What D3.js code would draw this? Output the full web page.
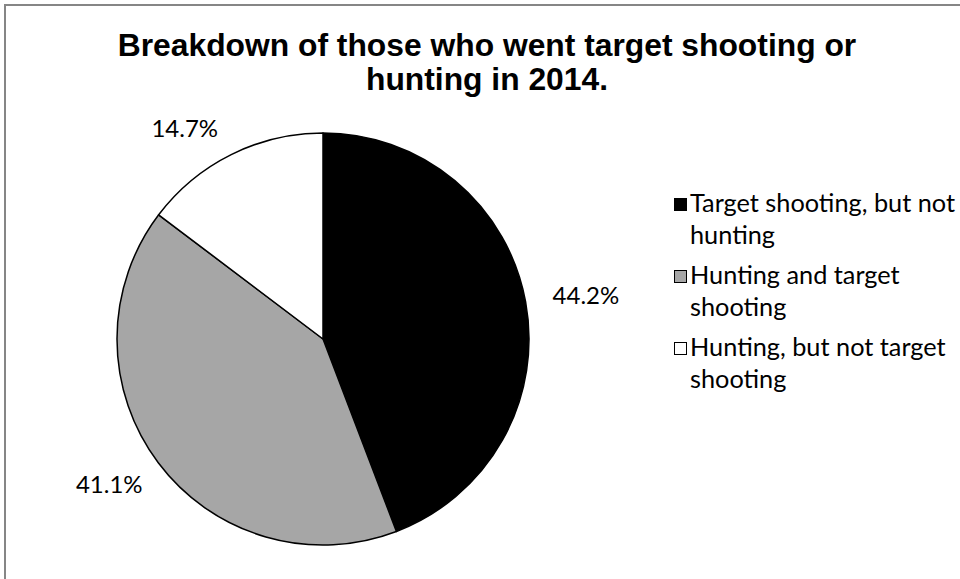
<!DOCTYPE html>
<html>
<head>
<meta charset="utf-8">
<script src="https://cdn.jsdelivr.net/npm/d3@7"></script>
<style>
  html, body { margin: 0; padding: 0; background: #fff; }
  svg { display: block; }
</style>
</head>
<body>
<svg id="chart" width="960" height="579"></svg>
<script>
// Survey breakdown, 2014
const categories = [
  "Target shooting, but not hunting",
  "Hunting and target shooting",
  "Hunting, but not target shooting"
];
const legendLines = [
  ["Target shooting, but not", "hunting"],
  ["Hunting and target", "shooting"],
  ["Hunting, but not target", "shooting"]
];
const shares = [44.2, 41.1, 14.7];
const fills = ["#000000", "#a6a6a6", "#ffffff"];
const titleLines = ["Breakdown of those who went target shooting or", "hunting in 2014."];

const svg = d3.select("#chart");
const W = 960, H = 579;

// outer chart frame (runs off the right and bottom edges)
svg.append("rect")
  .attr("x", 5).attr("y", 5)
  .attr("width", W + 10).attr("height", H + 10)
  .attr("fill", "#fff")
  .attr("stroke", "#868686")
  .attr("stroke-width", 2);

// title
svg.append("g")
  .selectAll("text")
  .data(titleLines)
  .join("text")
  .attr("x", 487)
  .attr("y", (d, i) => 56 + i * 34)
  .attr("text-anchor", "middle")
  .attr("font-family", "'Liberation Sans', Arial, sans-serif")
  .attr("font-weight", "bold")
  .attr("font-size", 31.8)
  .attr("fill", "#000")
  .text(d => d);

// pie
const cx = 323, cy = 339, r = 206;
const pie = d3.pie().sort(null).value(d => d);
const arcs = pie(shares);
const arc = d3.arc().innerRadius(0).outerRadius(r);

const g = svg.append("g").attr("transform", `translate(${cx},${cy})`);
g.selectAll("path")
  .data(arcs)
  .join("path")
  .attr("d", arc)
  .attr("fill", (d, i) => fills[i])
  .attr("stroke", "#000")
  .attr("stroke-width", 1.5)
  .attr("stroke-linejoin", "round");

// percentage labels just outside each slice
const labelFont = "Lato, 'Open Sans', sans-serif";
const labelSize = 24;
const gap = 28;
const plotTop = 120;
const labels = svg.append("g");
arcs.forEach((d, i) => {
  const t = labels.append("text")
    .attr("font-family", labelFont)
    .attr("font-size", labelSize)
    .attr("fill", "#000")
    .attr("text-anchor", "middle")
    .text(shares[i].toFixed(1) + "%");
  const w = t.node().getBBox().width, h = labelSize * 0.72;
  const mid = (d.startAngle + d.endAngle) / 2;
  const ux = Math.sin(mid), uy = -Math.cos(mid);
  let x = cx + (r + gap) * ux + ux * w / 2;
  let y = cy + (r + gap) * uy + uy * h / 2;
  // keep the label inside the plot area, sliding it round the pie
  if (y - h / 2 < plotTop) {
    const dist = Math.hypot(x - cx, y - cy) + 4;
    y = plotTop + h / 2;
    const dy = y - cy;
    x = cx + Math.sign(ux) * Math.sqrt(Math.max(0, dist * dist - dy * dy));
  }
  t.attr("x", x).attr("y", y + h / 2);
});

// legend
const legend = svg.append("g");
const legX = 674, legY0 = 198, itemStep = 72, lineStep = 32, sw = 13;
legendLines.forEach((lines, i) => {
  const top = legY0 + i * itemStep;
  legend.append("rect")
    .attr("x", legX + 0.5).attr("y", top + 0.5)
    .attr("width", sw - 1).attr("height", sw - 1)
    .attr("fill", fills[i])
    .attr("stroke", "#000")
    .attr("stroke-width", 1);
  lines.forEach((ln, j) => {
    legend.append("text")
      .attr("x", legX + 16)
      .attr("y", top + 14 + j * lineStep)
      .attr("font-family", labelFont)
      .attr("font-size", 25.3)
      .attr("fill", "#000")
      .text(ln);
  });
});
</script>
</body>
</html>
